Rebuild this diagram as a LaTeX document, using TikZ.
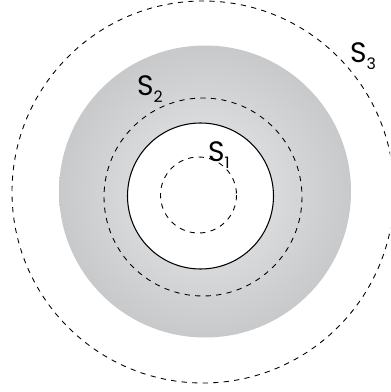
\documentclass[tikz,border=0pt]{standalone}
\usepackage{fontspec}
\setsansfont{Poppins}
\usepackage{tikz}
\definecolor{shellin}{HTML}{E9EAEC}
\definecolor{shellout}{HTML}{C8C9CB}
\newcommand{\surfname}[1]{S\raisebox{-0.45ex}{\fontsize{9}{10}\selectfont #1}}
\tikzset{
  surf/.style={dashed,line width=0.5pt},
  lbl/.style={inner sep=0pt,font=\sffamily\fontsize{16}{18}\selectfont}
}

\begin{document}
\begin{tikzpicture}[x=0.02cm,y=-0.02cm]
\useasboundingbox (0,0) rectangle (390,392);
\begin{scope}
\clip (0,0) rectangle (390,392);
\draw[surf] (203,192) circle (191);
\end{scope}
\shade[inner color=shellin,outer color=shellout] (205,191.5) circle (146);
\filldraw[fill=white,line width=0.6pt] (200.5,196) circle (73);
\draw[surf] (203,197) circle (99);
\draw[surf] (198.5,195) circle (38);
\node[lbl] (s3) at (363,56) {\surfname{3}};
\node[lbl] (s2) at (150,89) {\surfname{2}};
\node[lbl] (s1) at (219,155) {\surfname{1}};
\end{tikzpicture}
\end{document}
